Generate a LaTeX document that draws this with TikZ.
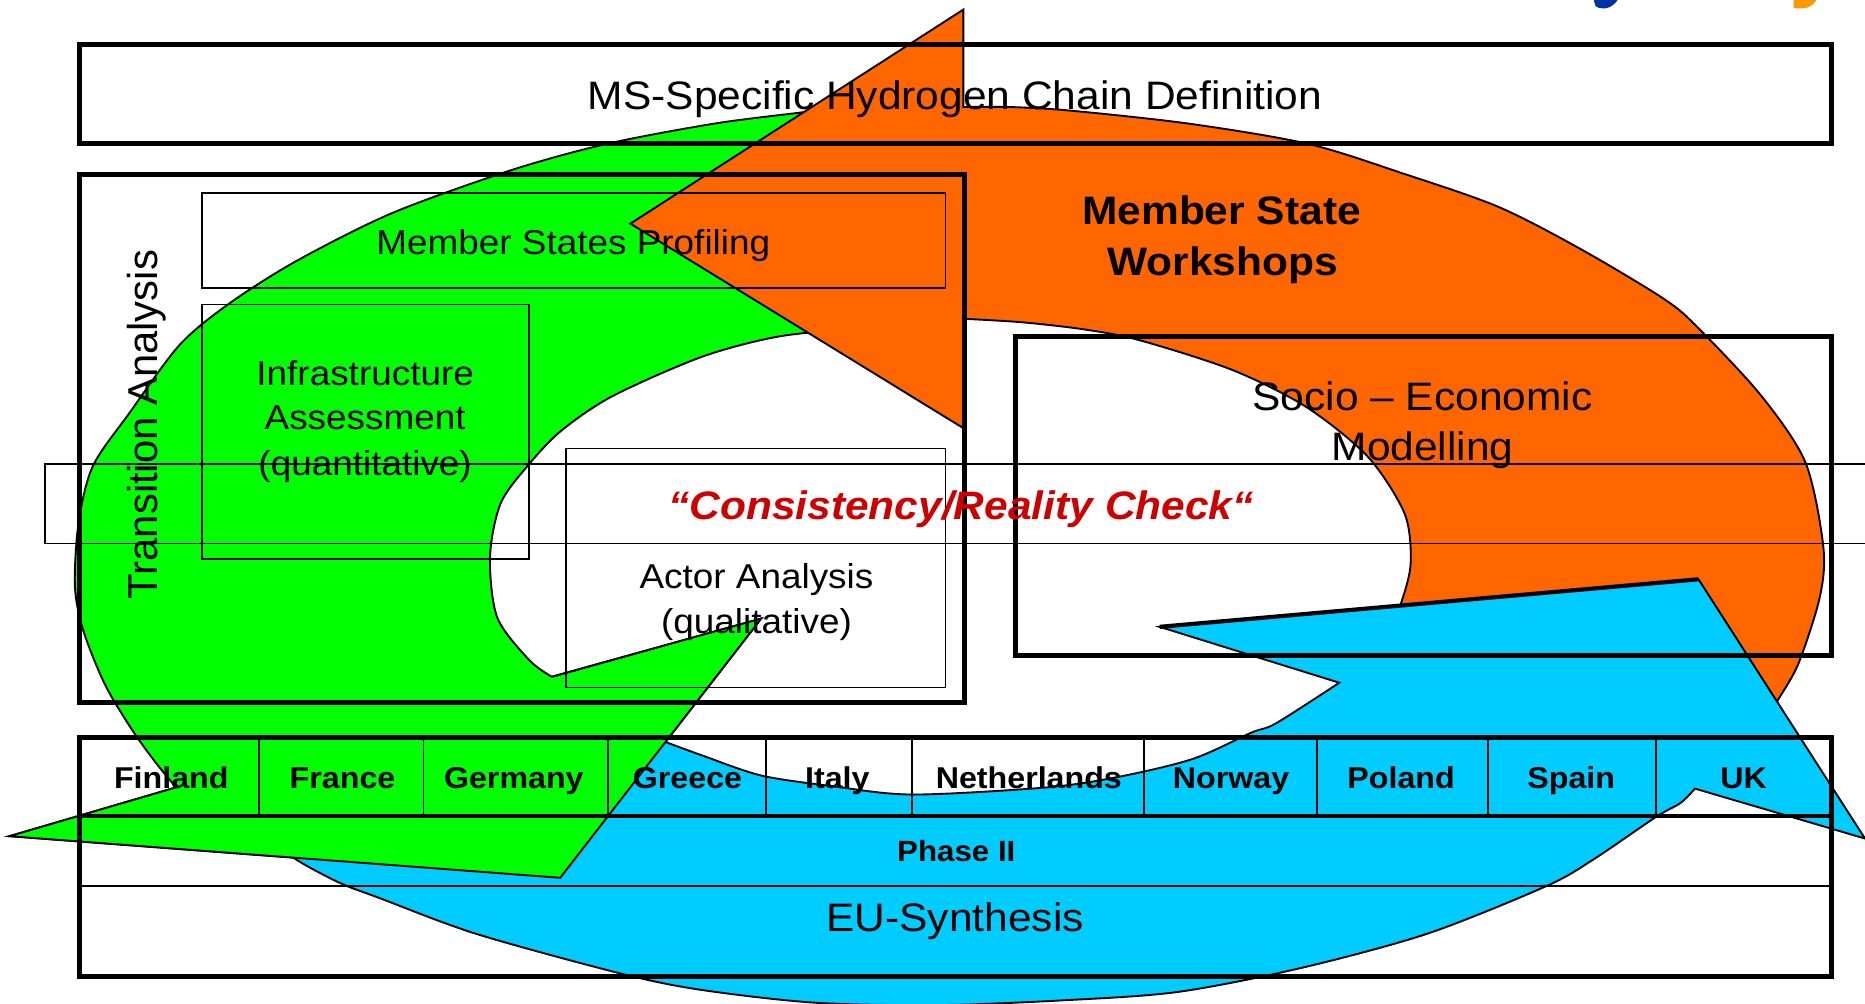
\documentclass[tikz,border=0pt]{standalone}
\usepackage{fontspec}
\setmainfont{Liberation Sans}[FakeStretch=1.07]
\newfontfamily\upfont{Liberation Sans}
\usepackage{tikz}

\definecolor{arrowgreen}{HTML}{00FF00}
\definecolor{arroworange}{HTML}{FF6600}
\definecolor{arrowblue}{HTML}{00CCFF}
\definecolor{checkred}{HTML}{CC0000}
\definecolor{logoblue}{HTML}{0033A0}
\definecolor{logoorange}{HTML}{FF9900}

\begin{document}
\begin{tikzpicture}[x=0.1mm, y=-0.1mm,
        heavy/.style={line width=1.2pt},
        light/.style={line width=0.4pt},
        outline/.style={draw=black, line width=0.45pt},
        lbl/.style={anchor=base, inner sep=0pt},
        big/.style={lbl, font=\fontsize{9.5}{11}\selectfont},
        mid/.style={lbl, font=\fontsize{8.25}{10}\selectfont},
        bigbold/.style={lbl, font=\fontsize{9.5}{11}\selectfont\bfseries},
        ctry/.style={lbl, font=\fontsize{7.2}{9}\selectfont\bfseries}]
            \useasboundingbox (0, 0) rectangle (1568, 844);

            \fill [logoblue] (1340, 0) -- (1341, 4) .. controls (1342, 7) and (1346, 7) .. (1350, 7)
                .. controls (1355, 6) and (1358, 3) .. (1360, 0) -- cycle;
            \fill [logoorange] (1508, 0) -- (1508, 7) -- (1517, 7)
                .. controls (1522, 6) and (1526, 3) .. (1527, 0) -- cycle;

            \filldraw [outline, fill=arrowgreen]
                plot [smooth] coordinates {(720, 89) (670, 95) (600, 104) (510, 121) (430, 143)
                    (330, 179) (250, 219) (193, 255) (151, 290) (109, 347) (78, 392) (66, 440)
                    (63, 493) (70, 530) (88, 575) (110, 612) (130, 640) (148, 662)}
                -- (8, 703) -- (471, 738) -- (640, 520) -- (464, 569)
                -- plot [smooth] coordinates {(464, 569) (445, 555) (418, 519) (412, 468)
                    (421, 423) (445, 390) (472, 362) (515, 333) (590, 300) (654, 283) (720, 276)}
                -- cycle;

            \filldraw [outline, fill=arroworange]
                (810, 8) -- (530, 188) -- (810, 360) -- (810, 268)
                -- plot [smooth] coordinates {(810, 268) (860, 271) (912, 277) (958, 286)
                    (1036, 311) (1098, 342) (1150, 384) (1181, 432) (1186, 474) (1178, 507) (1170, 525)}
                -- plot [smooth] coordinates {(1488, 603) (1494, 590) (1512, 558) (1530, 502)
                    (1533, 460) (1518, 389) (1481, 333) (1429, 277) (1400, 252) (1330, 210)
                    (1260, 174) (1180, 146) (1100, 121) (1000, 104) (900, 93) (850, 90) (810, 90)}
                -- cycle;

            \filldraw [outline, fill=arrowblue]
                (975, 527) -- (1428, 487) -- (1568, 705) -- (1425, 663)
                -- plot [smooth] coordinates {(1425, 663) (1413, 675) (1392, 687) (1339, 723)
                    (1300, 745) (1200, 785) (1093, 814) (990, 834) (894, 841) (790, 845) (685, 843)
                    (588, 832) (520, 818) (400, 785) (319, 755) (285, 742) (248, 722) (235, 708)}
                -- plot [smooth] coordinates {(525, 611) (560, 624) (590, 635) (640, 652) (700, 661)
                    (767, 668) (880, 662) (941, 653) (1003, 638) (1052, 616) (1073, 608) (1126, 574)}
                -- cycle;
            \draw [line width=1pt] (975, 527) -- (1428, 487);

            \fill [arrowgreen] (8, 703) -- (471, 738) -- (640, 520) -- cycle;
            \draw [outline] (148, 662) -- (8, 703) -- (471, 738) -- (640, 520) -- (464, 569);

            \draw [heavy] (67, 37) rectangle (1540, 121);
            \draw [heavy] (67, 147) rectangle (811, 591);
            \draw [light] (170, 162) rectangle (795, 242);
            \draw [light] (170, 256) rectangle (445, 470);
            \draw [light] (476, 377) rectangle (795, 578);
            \draw [light] (1568, 390) -- (38, 390) -- (38, 457) -- (1568, 457);
            \draw [heavy] (854, 283) rectangle (1540, 551);
            \draw [heavy] (67, 620) rectangle (1540, 821);
            \draw [line width=0.8pt] (67, 686) -- (1540, 686);
            \draw [line width=0.5pt] (67, 745) -- (1540, 745);
            \draw [light] (218, 620) -- (218, 686) (356, 620) -- (356, 686)
                (511, 620) -- (511, 686) (644, 620) -- (644, 686)
                (767, 620) -- (767, 686) (962, 620) -- (962, 686)
                (1107, 620) -- (1107, 686) (1251, 620) -- (1251, 686)
                (1392, 620) -- (1392, 686);

            \node [big] (ms) at (803, 92) {MS-Specific Hydrogen Chain Definition};
            \node [lbl, rotate=90, font=\upfont\fontsize{10}{12}\selectfont]
                (transition) at (132, 357) {Transition Analysis};
            \node [mid] (profiling) at (482, 214) {Member States Profiling};
            \node [mid] (infra1) at (307, 324) {Infrastructure};
            \node [mid] (infra2) at (307, 361) {Assessment};
            \node [mid] (infra3) at (307, 400) {(quantitative)};
            \node [mid] (actor1) at (636, 495) {Actor Analysis};
            \node [mid] (actor2) at (636, 533) {(qualitative)};
            \node [bigbold] (workshop1) at (1027, 189) {Member State};
            \node [bigbold] (workshop2) at (1028, 232) {Workshops};
            \node [big] (socio1) at (1196, 345) {Socio – Economic};
            \node [big] (socio2) at (1196, 387) {Modelling};
            \node [bigbold, font=\fontsize{9.5}{11}\selectfont\bfseries\itshape, text=checkred]
                (check) at (808, 437) {“Consistency/Reality Check“};

            \node [ctry] (finland) at (144, 663) {Finland};
            \node [ctry] (france) at (288, 663) {France};
            \node [ctry] (germany) at (432, 663) {Germany};
            \node [ctry] (greece) at (578, 663) {Greece};
            \node [ctry] (italy) at (704, 663) {Italy};
            \node [ctry] (netherlands) at (865, 663) {Netherlands};
            \node [ctry] (norway) at (1035, 663) {Norway};
            \node [ctry] (poland) at (1178, 663) {Poland};
            \node [ctry] (spain) at (1321, 663) {Spain};
            \node [ctry] (uk) at (1466, 663) {UK};
            \node [ctry, font=\fontsize{7}{9}\selectfont\bfseries] (phase) at (804, 724) {Phase II};
            \node [big] (eu) at (803, 783) {EU-Synthesis};
        \end{tikzpicture}
\end{document}
